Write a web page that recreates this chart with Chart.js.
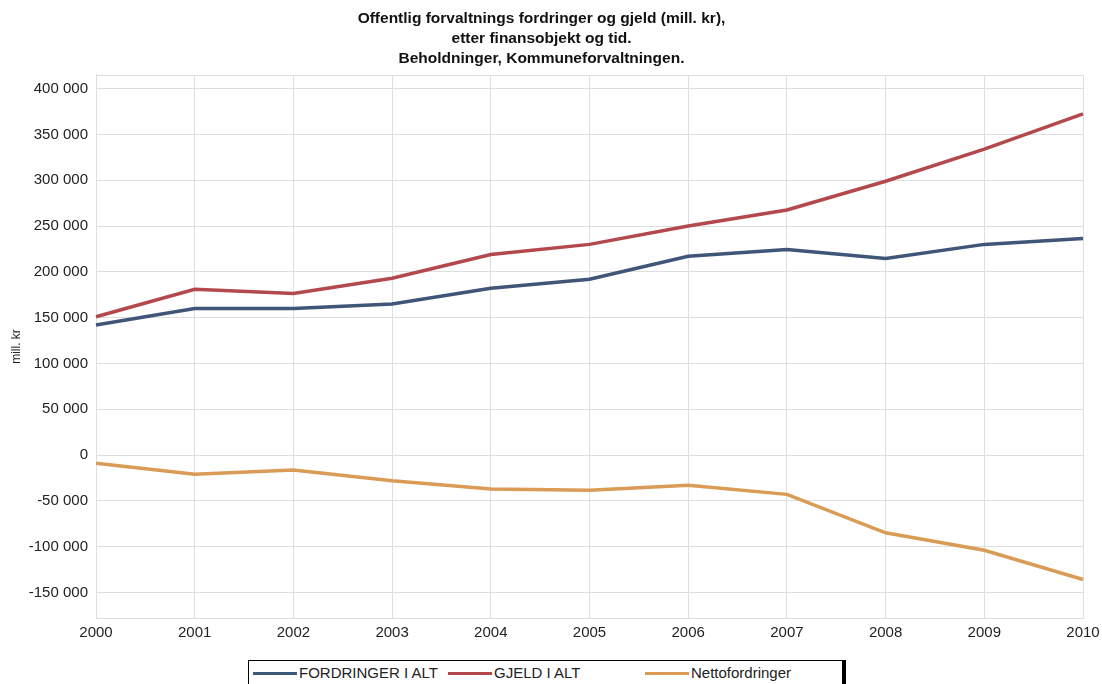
<!DOCTYPE html>
<html>
<head>
<meta charset="utf-8">
<script src="https://cdn.jsdelivr.net/npm/chart.js@4/dist/chart.umd.min.js"></script>
<style>
    body { margin: 0; background: #fff; }
    #wrap { position: relative; width: 1102px; height: 684px; overflow: hidden; }
    #chart-ctx { position: absolute; left: 0; top: 0; }
    #legend {
        position: absolute; left: 248px; top: 660px; width: 598px; height: 26px;
        border: 1px solid #000; border-right: 4px solid #000; box-sizing: border-box;
        font: 15px "Liberation Sans", Arial, sans-serif; color: #222;
    }
    .item { position: absolute; top: 3px; height: 18px; line-height: 18px; white-space: nowrap; }
    .item span.swatch { display: inline-block; width: 44px; height: 3px; vertical-align: middle; margin-right: 2px; position: relative; top: -1px; }
</style>
</head>
<body>
<div id="wrap">
    <canvas id="chart-ctx" width="1102" height="648"></canvas>
    <div id="legend"></div>
</div>
<script>
const years = ["2000", "2001", "2002", "2003", "2004", "2005", "2006", "2007", "2008", "2009", "2010"];
const fordringer = [142000, 160000, 160000, 165000, 182000, 192000, 217000, 224500, 214500, 230000, 236500];
const gjeld = [151000, 181000, 176500, 193000, 219000, 230000, 250000, 267500, 299000, 334000, 372500];
const netto = [-9000, -21000, -16500, -28000, -37000, -38500, -33000, -43000, -85000, -104000, -136000];
const yTicks = [-150000, -100000, -50000, 0, 50000, 100000, 150000, 200000, 250000, 300000, 350000, 400000];

const seriesNames = ["FORDRINGER I ALT", "GJELD I ALT", "Nettofordringer"];
const seriesColors = ["#3f5679", "#b3494c", "#d99b56"];
const legendOffsets = [4, 199, 396];

const gridColor = "#dedede";
const font = "'Liberation Sans', Arial, sans-serif";

function formatNumber(value) {
    const sign = value < 0 ? "-" : "";
    return sign + Math.abs(value).toString().replace(/\B(?=(\d{3})+(?!\d))/g, " ");
}

// frame round the plot area, the top edge has no grid line of its own
const plotFrame = {
    id: "plotFrame",
    beforeDatasetsDraw(chart) {
        const { ctx, chartArea } = chart;
        ctx.save();
        ctx.strokeStyle = gridColor;
        ctx.lineWidth = 1;
        ctx.strokeRect(chartArea.left + 0.5, chartArea.top + 0.5,
            chartArea.right - chartArea.left, chartArea.bottom - chartArea.top);
        ctx.restore();
    }
};

const dataSetList = [fordringer, gjeld, netto].map((values, i) => {
    return {
        label: seriesNames[i],
        data: values,
        borderColor: seriesColors[i],
        backgroundColor: seriesColors[i],
        borderWidth: 3.5,
        pointRadius: 0,
        tension: 0,
    }
});

const ctx = document.getElementById("chart-ctx");

const chart = new Chart(ctx, {
    type: "line",
    data: {
        labels: years,
        datasets: dataSetList,
    },
    options: {
        responsive: false,
        animation: false,
        layout: {
            padding: { left: 0, right: 19, top: 0, bottom: 0 },
        },
        plugins: {
            legend: { display: false },
            tooltip: { enabled: false },
            title: {
                display: true,
                text: [
                    "Offentlig forvaltnings fordringer og gjeld (mill. kr),",
                    "etter finansobjekt og tid.",
                    "Beholdninger, Kommuneforvaltningen.",
                ],
                color: "#111",
                font: { family: font, size: 15.5, weight: "bold", lineHeight: 1.29 },
                padding: { top: 9, bottom: 6 },
            },
        },
        scales: {
            x: {
                offset: false,
                grid: { color: gridColor, drawTicks: false },
                border: { color: gridColor },
                ticks: {
                    color: "#222",
                    padding: 6,
                    maxRotation: 0,
                    autoSkip: false,
                    font: { family: font, size: 15 },
                },
                afterFit: (scale) => {
                    scale.paddingLeft = 0;
                    scale.paddingRight = 0;
                },
            },
            y: {
                min: -178000,
                max: 415000,
                grid: { color: gridColor, drawTicks: false },
                border: { color: gridColor },
                ticks: {
                    color: "#222",
                    padding: 8,
                    font: { family: font, size: 15 },
                    callback: (value) => formatNumber(value),
                },
                afterBuildTicks: (scale) => {
                    scale.ticks = yTicks.map((v) => ({ value: v }));
                },
                title: {
                    display: true,
                    text: "mill. kr",
                    color: "#222",
                    font: { family: font, size: 12 },
                    padding: { top: 9, bottom: 0 },
                },
                afterFit: (scale) => {
                    scale.width = 96;
                },
            },
        },
    },
    plugins: [plotFrame],
});

// legend drawn as a boxed html strip below the chart
const legend = document.getElementById("legend");
chart.data.datasets.forEach((ds, i) => {
    const item = document.createElement("div");
    item.className = "item";
    item.style.left = legendOffsets[i] + "px";
    item.innerHTML = '<span class="swatch" style="background:' + ds.borderColor + '"></span>' + ds.label;
    legend.appendChild(item);
});
</script>
</body>
</html>
